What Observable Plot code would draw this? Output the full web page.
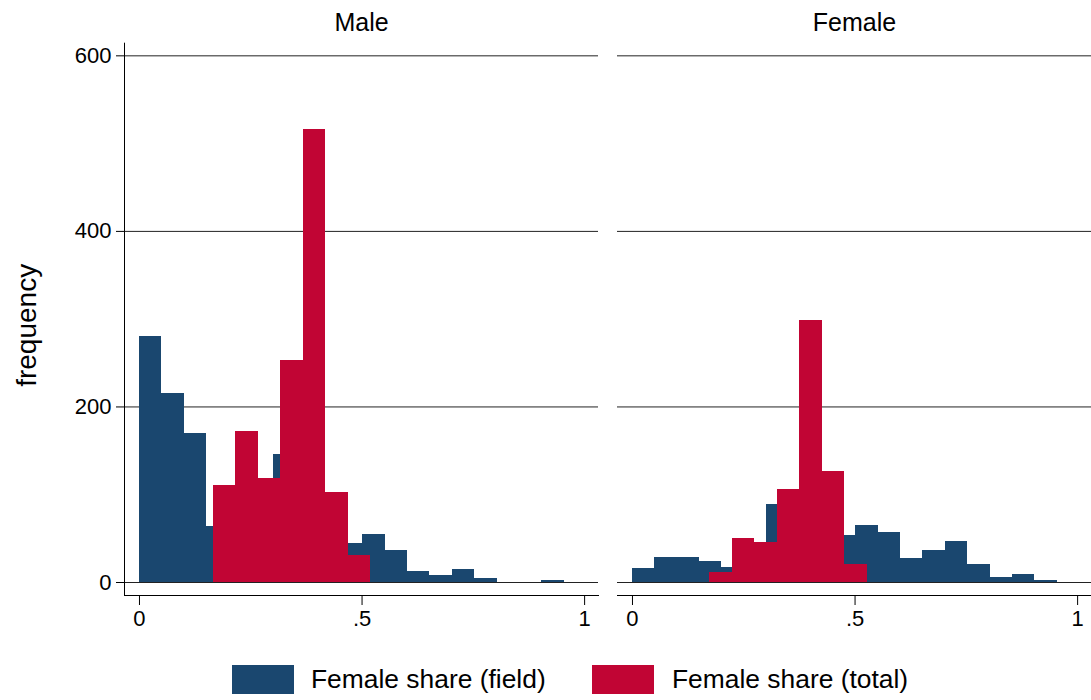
<!DOCTYPE html>
<html>
<head>
<meta charset="utf-8">
<script src="https://cdn.jsdelivr.net/npm/d3@7"></script>
<script src="https://cdn.jsdelivr.net/npm/@observablehq/plot@0.6"></script>
<style>
  body { margin: 0; background: #fff; font-family: "Liberation Sans", Arial, Helvetica, sans-serif; }
  #wrap { width: 1091px; }
  #legend { position: relative; width: 1091px; height: 50px; }
  .sw { position: absolute; top: 15px; width: 62px; height: 29px; }
  .lt { position: absolute; top: 15px; height: 29px; line-height: 29px; font-size: 26.4px; color: #000; white-space: nowrap; }
</style>
</head>
<body>
<div id="wrap">
  <div id="chart"></div>
  <div id="legend"></div>
</div>
<script>
// ---- data ----
const panels = ["Male", "Female"];
const series = ["Female share (field)", "Female share (total)"];
const seriesColors = ["#1a476f", "#c10534"];

// histogram bin layout
const fieldBinStart = 0;
const fieldBinWidth = 0.0502;
const totalBinWidth = 0.05055;
const maleTotalStart = 0.1654;
const femaleTotalStart = 0.1741;

// frequencies per bin
const maleField   = [280, 215, 170, 64, 65, 60, 146, 75, 50, 45, 55, 37, 13, 8, 15, 5, 0, 0, 2];
const maleTotal   = [111, 172, 118, 253, 516, 103, 31];
const femaleField = [16, 29, 28, 24, 17, 35, 89, 50, 47, 54, 65, 57, 27, 37, 47, 20, 6, 9, 2];
const femaleTotal = [11, 50, 46, 106, 299, 126, 21];

// axes
const yTicks = [0, 200, 400, 600];
const xTicks = [0, 0.5, 1];
const xTickLabels = ["0", ".5", "1"];
const yTitle = "frequency";

// ---- build table ----
function bins(panel, s, start, width, counts) {
  return counts.map((c, i) => ({
    panel, series: s,
    x1: start + i * width,
    x2: start + (i + 1) * width,
    count: c
  }));
}
const rows = [
  ...bins("Male", series[0], fieldBinStart, fieldBinWidth, maleField),
  ...bins("Female", series[0], fieldBinStart, fieldBinWidth, femaleField),
  ...bins("Male", series[1], maleTotalStart, totalBinWidth, maleTotal),
  ...bins("Female", series[1], femaleTotalStart, totalBinWidth, femaleTotal)
].filter(d => d.count > 0);

const font = "'Liberation Sans', Arial, Helvetica, sans-serif";

const chart = Plot.plot({
  width: 1091,
  height: 650,
  marginLeft: 123.3,
  marginRight: 0,
  marginTop: 42.7,
  marginBottom: 55,
  style: { fontFamily: font, fontSize: "22px", color: "#000", background: "#fff", overflow: "visible" },
  fx: { domain: panels, paddingInner: 0.0385, paddingOuter: 0, label: null },
  x: { domain: [-0.03366, 1.0312] },
  y: { domain: [-14.8, 614.4] },
  color: { domain: series, range: seriesColors },
  marks: [
    Plot.ruleY(yTicks, { stroke: "#222", strokeWidth: 1 }),
    Plot.rect(rows, {
      fx: "panel", x1: "x1", x2: "x2", y1: 0, y2: "count",
      fill: "series", shapeRendering: "crispEdges"
    }),
    Plot.frame({ anchor: "bottom", stroke: "#000", strokeWidth: 1 }),
    Plot.frame({ anchor: "left", facetAnchor: "left", stroke: "#000", strokeWidth: 1 }),
    Plot.axisY(yTicks, { tickSize: 8, tickPadding: 5, label: null, fontSize: 22 }),
    Plot.axisX(xTicks, {
      tickSize: 10, tickPadding: 5, label: null, fontSize: 22,
      tickFormat: d => xTickLabels[xTicks.indexOf(d)]
    }),
    Plot.axisFx({ anchor: "top", tickSize: 0, tickPadding: 12, label: null, fontSize: 25 }),
    Plot.text([yTitle], {
      fx: () => panels[0], text: d => d, frameAnchor: "left",
      textAnchor: "middle", lineAnchor: "middle",
      rotate: -90, dx: -97, dy: 6, fontSize: 28, fill: "#000"
    })
  ]
});
document.getElementById("chart").appendChild(chart);

// ---- legend ----
const legend = document.getElementById("legend");
const swX = [232, 592];
const txX = [311, 672];
series.forEach((s, i) => {
  const sw = document.createElement("div");
  sw.className = "sw";
  sw.style.left = swX[i] + "px";
  sw.style.background = seriesColors[i];
  legend.appendChild(sw);
  const t = document.createElement("div");
  t.className = "lt";
  t.style.left = txX[i] + "px";
  t.textContent = s;
  legend.appendChild(t);
});
</script>
</body>
</html>
